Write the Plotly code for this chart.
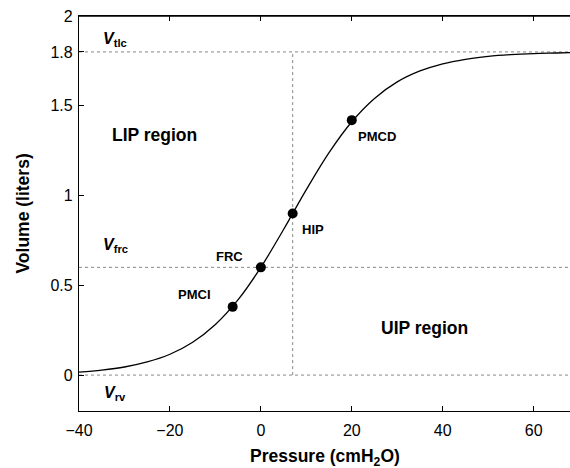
import plotly.graph_objects as go

# Pressure-volume curve
pressure = [-40, -35, -30, -25, -20, -15, -10, -5, 0, 5, 10, 15, 20, 25, 30, 35, 40, 45, 50, 55, 60, 65, 68]
volume = [0.017, 0.028, 0.045, 0.073, 0.116, 0.183, 0.282, 0.420, 0.600, 0.811, 1.033, 1.239, 1.411,
          1.541, 1.633, 1.694, 1.734, 1.759, 1.775, 1.785, 1.791, 1.794, 1.796]

# Marked points
point_names = ["PMCI", "FRC", "HIP", "PMCD"]
point_p = [-6.2, 0, 7, 20]
point_v = [0.38, 0.60, 0.90, 1.42]
label_p = [-14.5, -7, 11.5, 25.5]
label_v = [0.45, 0.66, 0.81, 1.33]

# Reference volumes
ref_names = ["tlc", "frc", "rv"]
ref_v = [1.8, 0.6, 0.0]
ref_label_p = [-32, -32, -32]
ref_label_v = [1.87, 0.72, -0.10]
hip_p = 7

region_names = ["LIP region", "UIP region"]
region_p = [-23.3, 36]
region_v = [1.34, 0.26]

x_range = [-40, 68]
y_range = [-0.2, 2]
x_ticks = [-40, -20, 0, 20, 40, 60]
x_ticklabels = ["\u221240", "\u221220", "0", "20", "40", "60"]
y_ticks = [0, 0.5, 1, 1.5, 1.8, 2]
y_ticklabels = ["0", "0.5", "1", "1.5", "1.8", "2"]
x_title = "Pressure (cmH<sub>2</sub>O)"
y_title = "Volume (liters)"

FONT = "Liberation Sans, Arial, Helvetica, sans-serif"
DOT = dict(color="#888888", width=1, dash="dot")

fig = go.Figure()

# dotted reference lines
for v in ref_v:
    fig.add_trace(go.Scatter(x=x_range, y=[v, v], mode="lines", line=DOT,
                             hoverinfo="skip", showlegend=False))
fig.add_trace(go.Scatter(x=[hip_p, hip_p], y=[ref_v[2], ref_v[0]], mode="lines", line=DOT,
                         hoverinfo="skip", showlegend=False))

fig.add_trace(go.Scatter(x=pressure, y=volume, mode="lines",
                         line=dict(color="black", width=1.3, shape="spline"),
                         showlegend=False))
fig.add_trace(go.Scatter(x=point_p, y=point_v, mode="markers",
                         marker=dict(color="black", size=10), showlegend=False))

for name, x, y in zip(point_names, label_p, label_v):
    fig.add_annotation(x=x, y=y, text="<b>%s</b>" % name, showarrow=False,
                       font=dict(family=FONT, size=13, color="black"))
for name, x, y in zip(ref_names, ref_label_p, ref_label_v):
    fig.add_annotation(x=x, y=y, text="<b><i>V</i><sub>%s</sub></b>" % name, showarrow=False,
                       font=dict(family=FONT, size=16, color="black"))
for name, x, y in zip(region_names, region_p, region_v):
    fig.add_annotation(x=x, y=y, text="<b>%s</b>" % name, showarrow=False,
                       font=dict(family=FONT, size=17.5, color="black"))

# axis titles
fig.add_annotation(xref="paper", yref="paper", x=0.5, y=-0.118, yanchor="middle",
                   text="<b>%s</b>" % x_title, showarrow=False,
                   font=dict(family=FONT, size=17.5, color="black"))
fig.add_annotation(xref="paper", yref="paper", x=-0.116, y=0.5, xanchor="center",
                   text="<b>%s</b>" % y_title, showarrow=False, textangle=-90,
                   font=dict(family=FONT, size=17.5, color="black"))

# top frame line of the axes box
fig.add_shape(type="line", xref="paper", yref="paper", x0=0, x1=1, y0=1, y1=1,
              line=dict(color="black", width=1.3), layer="above")

fig.update_layout(
    width=570, height=468,
    margin=dict(l=79, r=0, t=16, b=57, autoexpand=False),
    paper_bgcolor="white", plot_bgcolor="white",
    font=dict(family=FONT, size=16, color="black"),
)
fig.update_xaxes(range=x_range, tickvals=x_ticks, ticktext=x_ticklabels,
                 ticks="inside", ticklen=5, tickcolor="black",
                 showline=True, linecolor="black", linewidth=1.3, mirror="ticks",
                 showgrid=False, zeroline=False, automargin=False,
                 ticklabeloverflow="allow", ticklabelstandoff=5)
fig.update_yaxes(range=y_range, tickvals=y_ticks, ticktext=y_ticklabels,
                 ticks="inside", ticklen=5, tickcolor="black",
                 showline=True, linecolor="black", linewidth=1.3,
                 showgrid=False, zeroline=False, automargin=False,
                 ticklabeloverflow="allow", ticklabelstandoff=2)

# remove the default 8px page margin so the figure fills the window exactly
fig.write_html("out.html", config={"displayModeBar": False},
               post_script="document.body.style.margin='0';document.body.style.overflow='hidden';")
